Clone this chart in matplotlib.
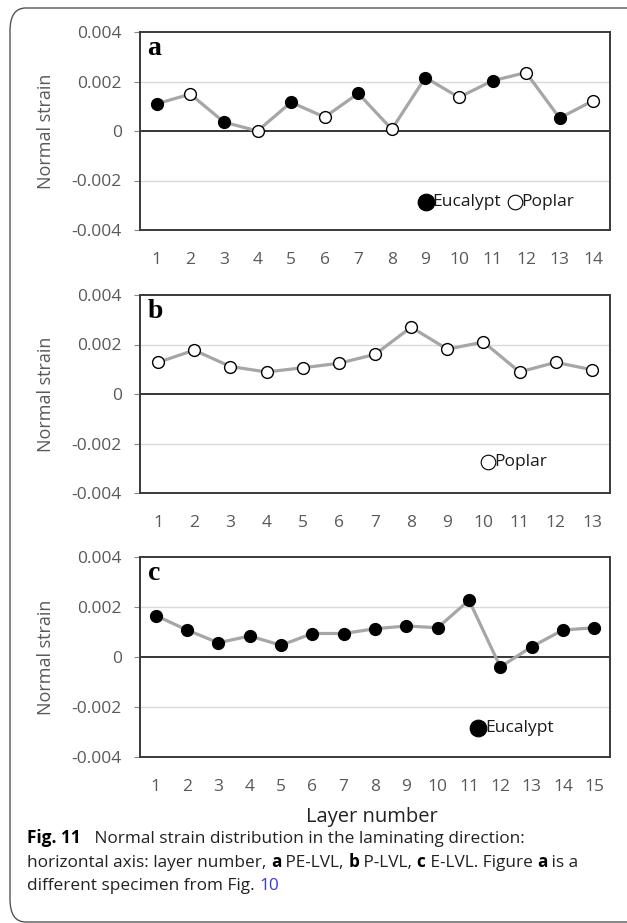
import numpy as np
import matplotlib
matplotlib.use('Agg')
import matplotlib.pyplot as plt
from matplotlib.patches import FancyBboxPatch

# panel a: PE-LVL (odd layers eucalypt, even layers poplar)
layers_a = list(range(1, 15))
strain_a = [0.00110, 0.00149, 0.00036, 0.00000, 0.00116, 0.00056, 0.00152,
            0.00007, 0.00216, 0.00136, 0.00203, 0.00236, 0.00052, 0.00123]
species_a = ['E', 'P', 'E', 'P', 'E', 'P', 'E', 'P', 'E', 'P', 'E', 'P', 'E', 'P']

# panel b: P-LVL
layers_b = list(range(1, 14))
strain_b = [0.00128, 0.00177, 0.00111, 0.00089, 0.00106, 0.00124, 0.00160,
            0.00270, 0.00181, 0.00210, 0.00089, 0.00128, 0.00098]
species_b = ['P'] * 13

# panel c: E-LVL
layers_c = list(range(1, 16))
strain_c = [0.00166, 0.00108, 0.00057, 0.00084, 0.00047, 0.00094, 0.00094,
            0.00113, 0.00124, 0.00117, 0.00227, -0.00040, 0.00041, 0.00108, 0.00117]
species_c = ['E'] * 15

yticks = [-0.004, -0.002, 0, 0.002, 0.004]
yticklabels = ['-0.004', '-0.002', '0', '0.002', '0.004']

W, H = 627, 923
fig = plt.figure(figsize=(W / 100, H / 100), dpi=100)

tick_font = 'Open Sans'
gray_txt = '#595959'

# rounded frame of the figure box
frame = FancyBboxPatch((10 / W, 1 - 922 / H), 700 / W, 914 / H,
                       boxstyle='round,pad=0,rounding_size=0.025',
                       transform=fig.transFigure, fill=False,
                       edgecolor='#555555', linewidth=1.0)
fig.patches.append(frame)


def panel(top, bottom, layers, strain, species, letter, legend_items, leg_xy):
    ax = fig.add_axes([140 / W, 1 - bottom / H, 470 / W, (bottom - top) / H])
    ax.plot(layers, strain, color='#a6a6a6', lw=2.3, zorder=2)
    for x, y, s in zip(layers, strain, species):
        fc = 'black' if s == 'E' else 'white'
        ax.plot(x, y, 'o', ms=8.5, mfc=fc, mec='black', mew=1.0, zorder=3)
    ax.set_xlim(0.5, len(layers) + 0.5)
    ax.set_ylim(-0.004, 0.004)
    ax.set_xticks(layers)
    ax.set_xticklabels([str(v) for v in layers], fontsize=12.5,
                       color=gray_txt, family=tick_font)
    ax.set_yticks(yticks)
    ax.set_yticklabels(yticklabels, fontsize=12.5, color=gray_txt, family=tick_font)
    ax.tick_params(axis='x', length=0, pad=16)
    ax.tick_params(axis='y', length=4, color='#888888', pad=9)
    for v in (-0.002, 0.002):
        ax.axhline(v, color='#d9d9d9', lw=1.0, zorder=1)
    ax.axhline(0, color='black', lw=1.1, zorder=1)
    for sp in ax.spines.values():
        sp.set_color('#3a3a3a')
        sp.set_linewidth(1.4)
    ax.set_ylabel('Normal strain', fontsize=13, color=gray_txt, family=tick_font)
    ax.yaxis.set_label_coords(-0.18, 0.5)
    ax.text(0.016, 1 - 4 / (bottom - top), letter, transform=ax.transAxes,
            fontsize=20, fontweight='bold', family='Liberation Serif',
            va='top', ha='left')
    # hand made legend
    x0, y0 = leg_xy
    renderer = fig.canvas.get_renderer()
    for kind, label in legend_items:
        fc = 'black' if kind == 'E' else 'white'
        ms = 12 if kind == 'E' else 10.5
        ax.plot([x0], [y0], 'o', ms=ms, mfc=fc, mec='black', mew=0.8,
                transform=ax.transAxes, clip_on=False, zorder=4)
        t = ax.text(x0 + 0.014, y0, label, transform=ax.transAxes,
                    fontsize=12.5, family=tick_font, color='#1a1a1a',
                    va='center', ha='left')
        bb = t.get_window_extent(renderer).transformed(ax.transAxes.inverted())
        x0 = bb.x1 + 0.03
    return ax


panel(32, 230, layers_a, strain_a, species_a, 'a',
      [('E', 'Eucalypt'), ('P', 'Poplar')], (0.608, 0.14))
panel(295, 493, layers_b, strain_b, species_b, 'b',
      [('P', 'Poplar')], (0.74, 0.157))
panel(557, 757, layers_c, strain_c, species_c, 'c',
      [('E', 'Eucalypt')], (0.72, 0.145))

fig.text(372 / W, 1 - 817 / H, 'Layer number', ha='center', va='center',
         fontsize=14.5, family=tick_font, color='#222222')

# caption with mixed bold runs
cap_font = 'Open Sans'
cap_size = 12.4
lines = [
    [('Fig. 11', 'bold', 'black'),
     ('   Normal strain distribution in the laminating direction:', 'normal', '#222222')],
    [('horizontal axis: layer number, ', 'normal', '#222222'), ('a', 'bold', 'black'),
     (' PE-LVL, ', 'normal', '#222222'), ('b', 'bold', 'black'),
     (' P-LVL, ', 'normal', '#222222'), ('c', 'bold', 'black'),
     (' E-LVL. Figure ', 'normal', '#222222'), ('a', 'bold', 'black'),
     (' is a', 'normal', '#222222')],
    [('different specimen from Fig. ', 'normal', '#222222'), ('10', 'normal', '#3b3bd6')],
]
baselines = [843, 867, 890]
renderer = fig.canvas.get_renderer()
for runs, yb in zip(lines, baselines):
    x = 27 / W
    for txt, wt, col in runs:
        t = fig.text(x, 1 - yb / H, txt, fontsize=cap_size, family=cap_font,
                     fontweight=wt, color=col, ha='left', va='baseline')
        bb = t.get_window_extent(renderer).transformed(fig.transFigure.inverted())
        x = bb.x1

fig.savefig('out.png', dpi=100)
